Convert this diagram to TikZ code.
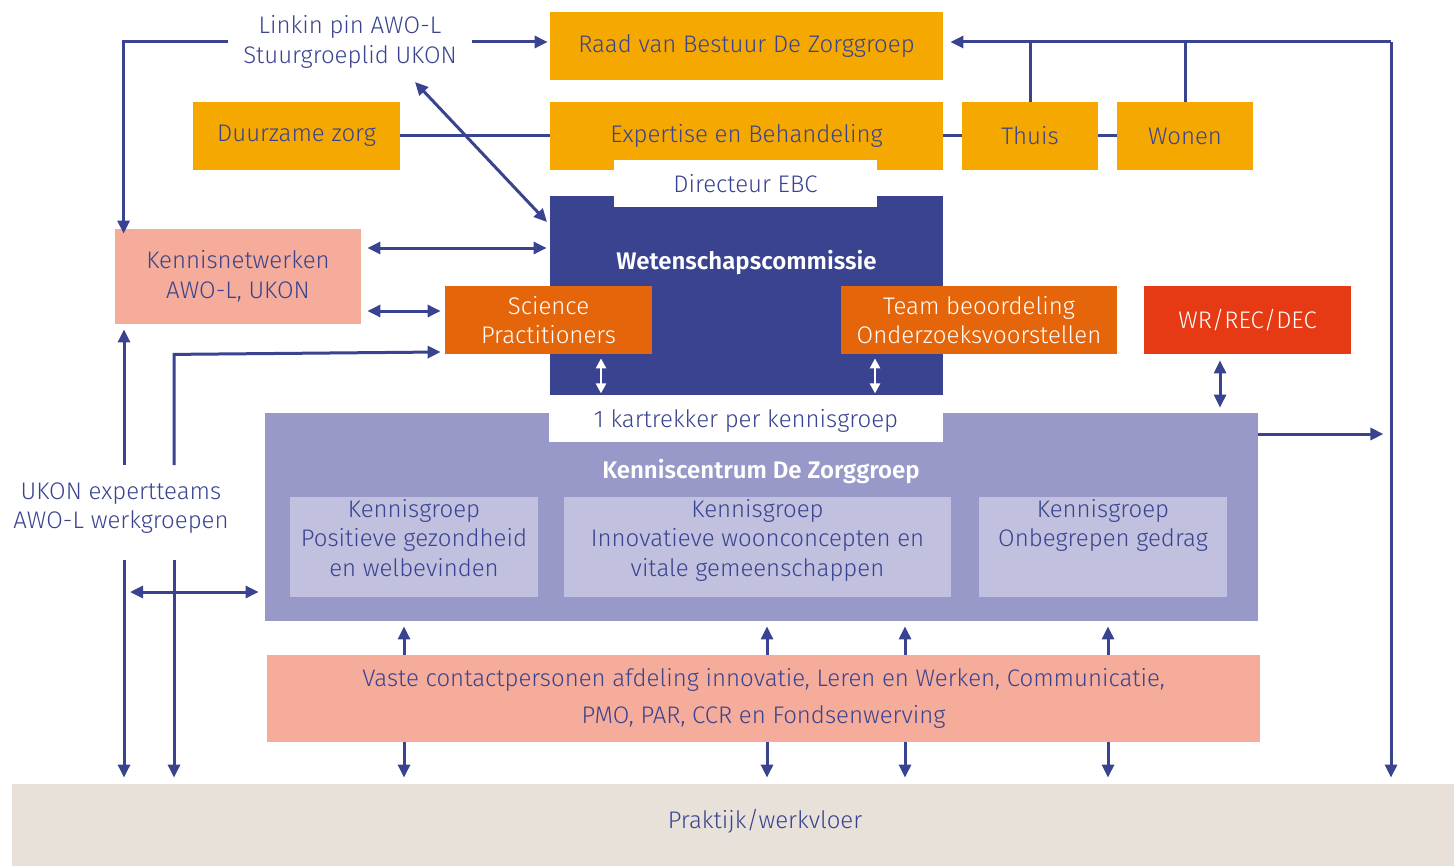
\documentclass[tikz,border=0pt]{standalone}
\usepackage{fontspec}
\setmainfont{Fira Sans}[UprightFont=* Light, BoldFont=* SemiBold]
\usetikzlibrary{arrows.meta,calc}
\definecolor{navy}{HTML}{39438F}
\definecolor{orng}{HTML}{F5A800}
\definecolor{dorng}{HTML}{E5650A}
\definecolor{redbox}{HTML}{E53A14}
\definecolor{pinkbox}{HTML}{F5AC9A}
\definecolor{lav}{HTML}{9899C8}
\definecolor{lavlight}{HTML}{C1C0DF}
\definecolor{sand}{HTML}{E8E1DA}
\begin{document}
\begin{tikzpicture}[x=0.5pt,y=-0.5pt,
  txt/.style={inner sep=0pt, align=center, text=navy, font=\fontsize{12}{14.75}\selectfont},
  box/.style 2 args={txt, minimum width=#1*0.5pt, minimum height=#2*0.5pt},
  con/.style={draw=navy, line width=1.5pt},
  tip/.tip={Triangle[width=6pt,length=6.5pt]},
  arr/.style={con, -tip},
  darr/.style={con, tip-tip},
  warr/.style={draw=white, line width=1.2pt, {Triangle[width=5pt,length=5pt]}-{Triangle[width=5pt,length=5pt]}},
]
\useasboundingbox (0,0) rectangle (1454,866);

% orange top boxes
\node[box={393}{68}, fill=orng] (raad) at (746.5,46) {Raad van Bestuur De Zorggroep};
\node[box={207}{68}, fill=orng] (duurzaam) at (296.5,136) {Duurzame zorg};
\node[box={393}{68}, fill=orng] (expertise) at (746.5,136) {Expertise en Behandeling};
\node[box={136}{68}, fill=orng] (thuis) at (1030,136) {Thuis};
\node[box={136}{68}, fill=orng] (wonen) at (1185,136) {Wonen};

% Wetenschapscommissie
\node[box={393}{199}, fill=navy] (wet) at (746.5,295.5) {};
\node[txt, text=white, font=\fontsize{12}{14.75}\selectfont\bfseries] (wettxt) at (746.5,263) {Wetenschapscommissie};
\node[box={263}{47}, fill=white] (dir) at (745.5,183.5) {Directeur EBC};
\node[box={207}{68}, fill=dorng, text=white] (sci) at (548.5,320) {Science\\Practitioners};
\node[box={276}{68}, fill=dorng, text=white] (team) at (979,320) {Team beoordeling\\Onderzoeksvoorstellen};
\node[box={207}{68}, fill=redbox, text=white] (wr) at (1247.5,320) {WR/REC/DEC};

% Kennisnetwerken
\node[box={246}{95}, fill=pinkbox] (kn) at (238,276.5) {Kennisnetwerken\\AWO-L, UKON};

% Kenniscentrum
\node[box={993}{208}, fill=lav] (kc) at (761.5,517) {};
\node[box={394}{42}, fill=white] (kart) at (746,421) {1 kartrekker per kennisgroep};
\node[txt, text=white, font=\fontsize{12}{14.75}\selectfont\bfseries] (kctxt) at (761,471) {Kenniscentrum De Zorggroep};
\node[box={248}{100}, fill=lavlight] (kg1) at (414,547) {};
\node[box={387}{100}, fill=lavlight] (kg2) at (757.5,547) {};
\node[box={248}{100}, fill=lavlight] (kg3) at (1103,547) {};
\node[txt, anchor=north] (kg1t) at (414,499) {Kennisgroep\\Positieve gezondheid\\en welbevinden};
\node[txt, anchor=north] (kg2t) at (757.5,499) {Kennisgroep\\Innovatieve woonconcepten en\\vitale gemeenschappen};
\node[txt, anchor=north] (kg3t) at (1103,499) {Kennisgroep\\Onbegrepen gedrag};

% Vaste contactpersonen
\node[box={993}{87}, fill=pinkbox, font=\fontsize{12}{18.5}\selectfont] (vaste) at (763.5,698.5) {Vaste contactpersonen afdeling innovatie, Leren en Werken, Communicatie,\\PMO, PAR, CCR en Fondsenwerving};

% Praktijk
\node[box={1442}{82}, fill=sand] (prak) at (733,825) {};
\node[txt] (praktxt) at (765,821) {Praktijk/werkvloer};

% free labels
\node[txt, inner xsep=7.5pt] (linkin) at (350,42) {Linkin pin AWO-L\\Stuurgroeplid UKON};
\node[txt] (ukon) at (121,508) {UKON expertteams\\AWO-L werkgroepen};

% coordinates
\coordinate (top) at (1391,42);
\coordinate (lk) at (415,82);
\coordinate (wetnw) at (547,222);
\coordinate (la) at (124,465);
\coordinate (lb) at (174,465);
\coordinate (lc) at (124,560);
\coordinate (ld) at (174,560);
\coordinate (le) at (130,592);

% connectors
\draw[arr] (linkin.west) -| ([xshift=4.5pt,yshift=-2.5pt]kn.north west);
\draw[arr, shorten >=1pt] (linkin.east) -- (linkin.east -| raad.west);
\draw[darr] (lk) -- (wetnw);
\draw[con] (duurzaam.east) -- (expertise.west);
\draw[con] (expertise.east) -- (thuis.west);
\draw[con] (thuis.east) -- (wonen.west);
\draw[con] (thuis.north) -- (thuis.north |- top);
\draw[con] (wonen.north) -- (wonen.north |- top);
\draw[arr, shorten >=3.5pt] (top) -- (top -| raad.east);
\draw[arr, shorten >=3pt] (top) -- (top |- prak.north);

\draw[darr] ($(kn.east)+(6,-28.5)$) -- ($(wet.west)+(-3,-47.5)$);
\draw[darr] ($(kn.east)+(6,34.5)$) -- ($(sci.west)+(-4,-9)$);
\draw[arr] (lb) -- (lb |- sci.south) -- ($(sci.west)+(-4,32)$);
\draw[arr, shorten >=2.5pt] (la) -- (la |- kn.south);
\draw[arr, shorten >=3pt] (lc) -- (lc |- prak.north);
\draw[arr, shorten >=3pt] (ld) -- (ld |- prak.north);
\draw[darr, shorten >=3pt] (le) -- (le -| kc.west);

\draw[warr] ([yshift=-2pt]sci.south -| 601,0) -- ([yshift=1pt]wet.south -| 601,0);
\draw[warr] ([yshift=-2pt]team.south -| 875,0) -- ([yshift=1pt]wet.south -| 875,0);
\draw[darr, shorten <=3pt, shorten >=2.5pt] (wr.south -| 1220,0) -- (kc.north -| 1220,0);
\draw[arr, shorten >=0pt] ($(kc.east)+(0,-83)$) -- ($(kc.east)+(125,-83)$);

\foreach \x in {404,767,905,1108}{
  \draw[arr, shorten >=2.5pt] (vaste.north -| \x,0) -- (kc.south -| \x,0);
  \draw[arr, shorten >=3pt] (vaste.south -| \x,0) -- (prak.north -| \x,0);
}
\end{tikzpicture}
\end{document}
